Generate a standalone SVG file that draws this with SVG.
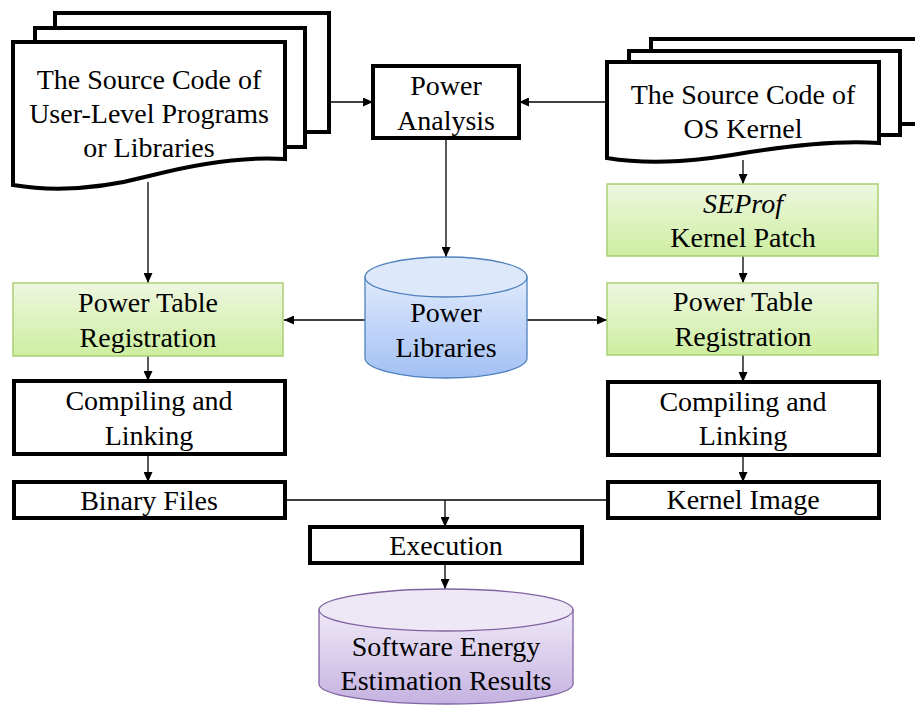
<svg xmlns="http://www.w3.org/2000/svg" width="915" height="706" viewBox="0 0 915 706">
<defs>
<linearGradient id="gGreen" x1="0" y1="0" x2="0" y2="1"><stop offset="0" stop-color="#eef7e0"/><stop offset="1" stop-color="#cdeea0"/></linearGradient>
<linearGradient id="gBlue" x1="0" y1="0" x2="0" y2="1"><stop offset="0" stop-color="#dfeafc"/><stop offset="1" stop-color="#a3c0f4"/></linearGradient>
<linearGradient id="gPurple" x1="0" y1="0" x2="0" y2="1"><stop offset="0" stop-color="#efe9f7"/><stop offset="1" stop-color="#c5b2e1"/></linearGradient>
<marker id="arr" markerUnits="userSpaceOnUse" markerWidth="10" markerHeight="9" refX="10" refY="4.5" orient="auto"><path d="M0,0 L10,4.5 L0,9 z" fill="#000"/></marker>
</defs>
<g id="connectors" fill="none" stroke="#000" stroke-width="1.3">
<path marker-end="url(#arr)" d="M329,102 H373"/>
<path marker-end="url(#arr)" d="M607,102 H519"/>
<path marker-end="url(#arr)" d="M446,138 V257"/>
<path marker-end="url(#arr)" d="M148,182 V283"/>
<path marker-end="url(#arr)" d="M743,160 V184"/>
<path marker-end="url(#arr)" d="M743,256 V283"/>
<path marker-end="url(#arr)" d="M365,320 H284"/>
<path marker-end="url(#arr)" d="M527,320 H607"/>
<path marker-end="url(#arr)" d="M148,356 V381"/>
<path marker-end="url(#arr)" d="M743,355 V382"/>
<path marker-end="url(#arr)" d="M148,454 V482"/>
<path marker-end="url(#arr)" d="M743,455 V482"/>
<path d="M285,500 H608"/>
<path marker-end="url(#arr)" d="M445,500 V527"/>
<path marker-end="url(#arr)" d="M445,563 V589"/>
</g>
<g font-family="Liberation Serif" font-size="28" text-anchor="middle" fill="#000">
<g id="user-source">
<g fill="#fff" stroke="#000" stroke-width="4">
<rect x="55" y="13" width="274" height="119"/>
<rect x="35" y="28" width="270" height="119"/>
<path d="M13,42 H285 V159 C240,156 195,164 149,176 C100,189 55,192 13,185 Z"/>
</g>
<text font-family="Liberation Serif" x="149" y="89">The Source Code of</text>
<text font-family="Liberation Serif" x="149" y="123">User-Level Programs</text>
<text font-family="Liberation Serif" x="149" y="157">or Libraries</text>
</g>
<g id="kernel-source">
<g fill="#fff" stroke="#000" stroke-width="4">
<rect x="651" y="39" width="290" height="85"/>
<rect x="629" y="51" width="271" height="84"/>
<path d="M607,62 H879 V143 C840,140 795,145 750,152 C705,160 655,166 607,158 Z"/>
</g>
<text font-family="Liberation Serif" x="743" y="104">The Source Code of</text>
<text font-family="Liberation Serif" x="743" y="138">OS Kernel</text>
</g>
<g id="power-analysis">
<rect x="373" y="66" width="146" height="72" fill="#fff" stroke="#000" stroke-width="4"/>
<text font-family="Liberation Serif" x="446" y="95">Power</text>
<text font-family="Liberation Serif" x="446" y="130">Analysis</text>
</g>
<g id="seprof-patch">
<rect x="607" y="184" width="271" height="72" fill="url(#gGreen)" stroke="#a9cf74" stroke-width="1.5"/>
<text font-family="Liberation Serif" x="743" y="213" font-style="italic">SEProf</text>
<text font-family="Liberation Serif" x="743" y="247">Kernel Patch</text>
</g>
<g id="power-libraries">
<path d="M365,277 V358 A81,20 0 0 0 527,358 V277 Z" fill="url(#gBlue)" stroke="#4f81bd" stroke-width="1.3"/>
<ellipse cx="446" cy="277" rx="81" ry="20" fill="#dde9fb" stroke="#4f81bd" stroke-width="1.3"/>
<text font-family="Liberation Serif" x="446" y="322">Power</text>
<text font-family="Liberation Serif" x="446" y="357">Libraries</text>
</g>
<g id="ptr-left">
<rect x="13" y="283" width="270" height="73" fill="url(#gGreen)" stroke="#a9cf74" stroke-width="1.5"/>
<text font-family="Liberation Serif" x="148" y="312">Power Table</text>
<text font-family="Liberation Serif" x="148" y="347">Registration</text>
</g>
<g id="ptr-right">
<rect x="607" y="283" width="271" height="72" fill="url(#gGreen)" stroke="#a9cf74" stroke-width="1.5"/>
<text font-family="Liberation Serif" x="743" y="311">Power Table</text>
<text font-family="Liberation Serif" x="743" y="346">Registration</text>
</g>
<g id="compile-left">
<rect x="14" y="381" width="271" height="73" fill="#fff" stroke="#000" stroke-width="4"/>
<text font-family="Liberation Serif" x="149" y="410">Compiling and</text>
<text font-family="Liberation Serif" x="149" y="445">Linking</text>
</g>
<g id="compile-right">
<rect x="608" y="382" width="271" height="73" fill="#fff" stroke="#000" stroke-width="4"/>
<text font-family="Liberation Serif" x="743" y="411">Compiling and</text>
<text font-family="Liberation Serif" x="743" y="445">Linking</text>
</g>
<g id="binary-files">
<rect x="14" y="482" width="271" height="36" fill="#fff" stroke="#000" stroke-width="4"/>
<text font-family="Liberation Serif" x="149" y="510">Binary Files</text>
</g>
<g id="kernel-image">
<rect x="608" y="482" width="271" height="36" fill="#fff" stroke="#000" stroke-width="4"/>
<text font-family="Liberation Serif" x="743" y="509">Kernel Image</text>
</g>
<g id="execution">
<rect x="310" y="527" width="272" height="36" fill="#fff" stroke="#000" stroke-width="4"/>
<text font-family="Liberation Serif" x="446" y="555">Execution</text>
</g>
<g id="results">
<path d="M319,610 V684 A127,20 0 0 0 573,684 V610 Z" fill="url(#gPurple)" stroke="#8064a2" stroke-width="1.3"/>
<ellipse cx="446" cy="610" rx="127" ry="21" fill="#eee8f6" stroke="#8064a2" stroke-width="1.3"/>
<text font-family="Liberation Serif" x="446" y="656">Software Energy</text>
<text font-family="Liberation Serif" x="446" y="690">Estimation Results</text>
</g>
</g>
</svg>
